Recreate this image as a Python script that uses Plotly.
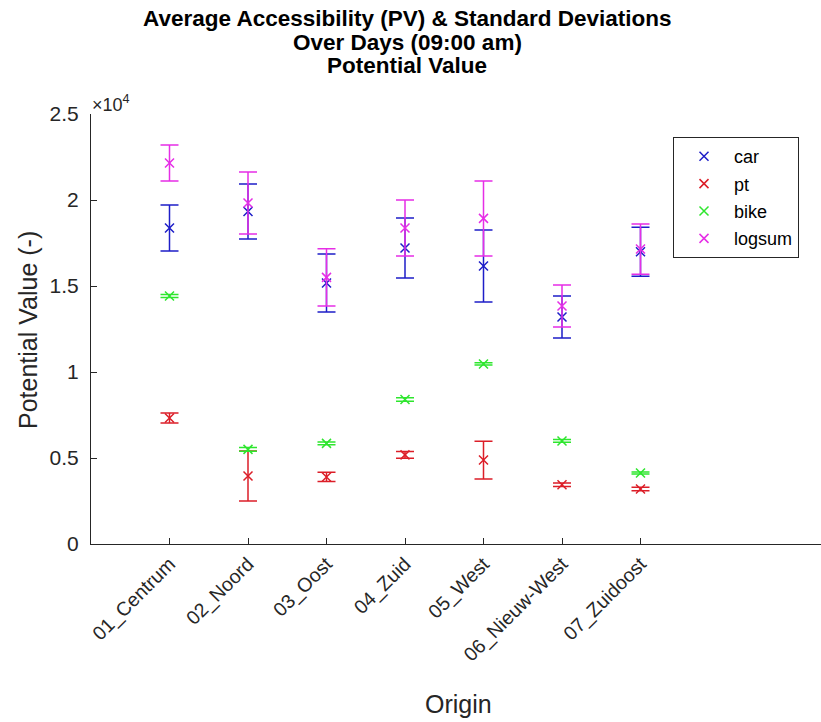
import plotly.graph_objects as go

# Districts of origin
districts = ["01_Centrum", "02_Noord", "03_Oost", "04_Zuid", "05_West",
             "06_Nieuw-West", "07_Zuidoost"]

# Mean potential value per mode and its standard deviation over days
car_mean = [18370, 19330, 15175, 17210, 16160, 13200, 16990]
car_std = [1340, 1600, 1690, 1745, 2090, 1220, 1430]

pt_mean = [7330, 3950, 3900, 5180, 4880, 3450, 3200]
pt_std = [290, 1450, 270, 200, 1100, 100, 100]

bike_mean = [14420, 5500, 5850, 8400, 10470, 5990, 4130]
bike_std = [90, 110, 80, 100, 70, 80, 60]

logsum_mean = [22150, 19830, 15500, 18370, 18930, 13840, 17150]
logsum_std = [1050, 1800, 1660, 1630, 2180, 1220, 1460]

y_tick_vals = [0, 5000, 10000, 15000, 20000, 25000]
y_tick_text = ["0", "0.5", "1", "1.5", "2", "2.5"]

series = [
    ("car", car_mean, car_std, "#1e1ec8"),
    ("pt", pt_mean, pt_std, "#dc1e28"),
    ("bike", bike_mean, bike_std, "#2ee62e"),
    ("logsum", logsum_mean, logsum_std, "#e62ee6"),
]

W, H = 821, 722
L, R, T, B = 91, 0, 114, 178
plot_w = W - L - R
plot_h = H - T - B
x_unit = 78.5  # pixels per category step
x_max = plot_w / x_unit

xpos = list(range(1, len(districts) + 1))

AX = "#262626"
FONT = "Liberation Sans, Arial, Helvetica, sans-serif"

fig = go.Figure()
for i, (name, mean, std, color) in enumerate(series):
    fig.add_trace(go.Scatter(
        x=xpos, y=mean, name=name, mode="markers",
        legendgroup=name,
        marker=dict(symbol="x-thin", size=9, line=dict(color=color, width=1.5), color=color),
        error_y=dict(type="data", array=std, visible=True, color=color,
                     thickness=1.5, width=9),
    ))


def px_to_paper_x(px):
    return (px - L) / plot_w


def px_to_paper_y(py):
    return (H - B - py) / plot_h


annotations = []
title_lines = ["Average Accessibility (PV) & Standard Deviations",
               "Over Days (09:00 am)", "Potential Value"]
for line, ypx in zip(title_lines, [18, 42, 66]):
    annotations.append(dict(
        text=f"<b>{line}</b>", x=px_to_paper_x(407), y=px_to_paper_y(ypx),
        xref="paper", yref="paper", xanchor="center", yanchor="middle",
        showarrow=False, font=dict(family=FONT, size=22.5, color="#000000")))

annotations.append(dict(
    text="Origin", x=px_to_paper_x(458), y=px_to_paper_y(704),
    xref="paper", yref="paper", xanchor="center", yanchor="middle",
    showarrow=False, font=dict(family=FONT, size=25, color=AX)))
annotations.append(dict(
    text="Potential Value (-)", x=px_to_paper_x(28), y=px_to_paper_y(330),
    xref="paper", yref="paper", xanchor="center", yanchor="middle",
    textangle=-90, showarrow=False, font=dict(family=FONT, size=25, color=AX)))
annotations.append(dict(
    text="×10<sup>4</sup>", x=px_to_paper_x(90), y=px_to_paper_y(104),
    xref="paper", yref="paper", xanchor="left", yanchor="middle",
    showarrow=False, font=dict(family=FONT, size=18, color=AX)))

fig.update_layout(
    width=W, height=H,
    margin=dict(l=L, r=R, t=T, b=B, pad=0),
    paper_bgcolor="white", plot_bgcolor="white",
    showlegend=True,
    legend=dict(
        x=px_to_paper_x(673), y=px_to_paper_y(137), xanchor="left", yanchor="top",
        bgcolor="white", bordercolor="#262626", borderwidth=1,
        font=dict(family=FONT, size=18, color="#000000"),
        tracegroupgap=1, itemwidth=50,
    ),
    annotations=annotations,
    xaxis=dict(
        range=[0, x_max], tickmode="array", tickvals=xpos, ticktext=districts,
        tickangle=-45, ticks="inside", ticklen=6, tickcolor=AX,
        showline=True, linecolor=AX, linewidth=1, showgrid=False, zeroline=False,
        tickfont=dict(family=FONT, size=19.5, color=AX),
    ),
    yaxis=dict(
        range=[0, 25000], tickmode="array", tickvals=y_tick_vals, ticktext=y_tick_text,
        ticks="inside", ticklen=6, tickcolor=AX, ticklabelstandoff=7,
        showline=True, linecolor=AX, linewidth=1, showgrid=False, zeroline=False,
        tickfont=dict(family=FONT, size=21, color=AX),
    ),
)

fig.write_html("out.html")
